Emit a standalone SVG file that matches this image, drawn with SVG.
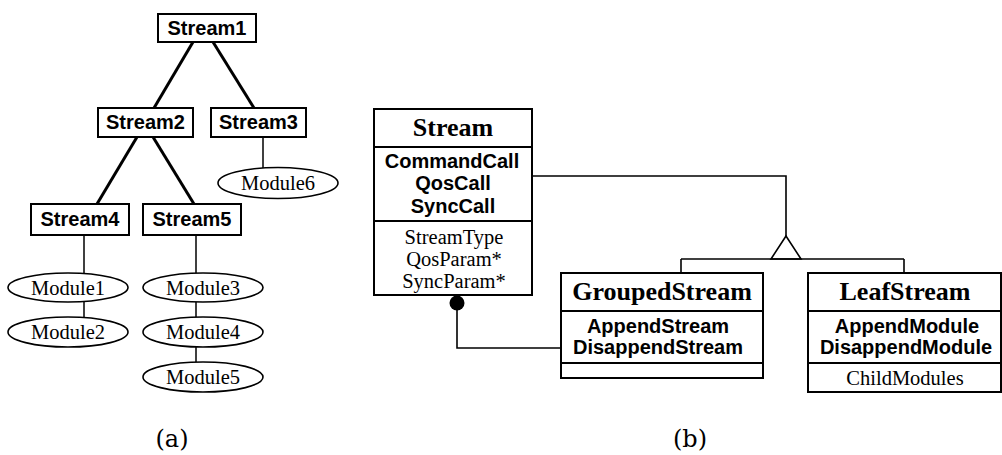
<svg xmlns="http://www.w3.org/2000/svg" width="1002" height="455" viewBox="0 0 1002 455">
  <style>
    .box { fill: #fff; stroke: #000; stroke-width: 2; }
    .ell { fill: #fff; stroke: #000; stroke-width: 1.6; }
    .div { stroke: #000; stroke-width: 2; fill: none; }
    .thick { stroke: #000; stroke-width: 3; fill: none; }
    .thin { stroke: #000; stroke-width: 1.5; fill: none; }
    .wire { stroke: #000; stroke-width: 1.6; fill: none; }
    .sb { font-family: "Liberation Sans", Arial, sans-serif; font-weight: bold; font-size: 20px; text-anchor: middle; fill: #000; }
    .sr { font-family: "Liberation Serif", "Times New Roman", serif; font-size: 20.5px; text-anchor: middle; fill: #000; }
    .mod { font-family: "Liberation Serif", "Times New Roman", serif; font-size: 22px; text-anchor: middle; fill: #000; }
    .st { font-family: "Liberation Serif", "Times New Roman", serif; font-weight: bold; font-size: 26px; text-anchor: middle; fill: #000; }
    .cap { font-family: "DejaVu Serif", "Liberation Serif", serif; font-size: 24px; text-anchor: middle; fill: #000; }
  </style>

  <!-- (a) stream tree -->
  <g id="tree-edges">
    <line class="thick" x1="193" y1="42" x2="154" y2="108"/>
    <line class="thick" x1="213" y1="42" x2="254" y2="108"/>
    <line class="thick" x1="137" y1="137" x2="97" y2="204"/>
    <line class="thick" x1="153" y1="137" x2="194" y2="204"/>
    <line class="thin" x1="263" y1="137" x2="263" y2="168"/>
    <line class="thin" x1="84" y1="235" x2="84" y2="273"/>
    <line class="thin" x1="84" y1="302" x2="84" y2="317"/>
    <line class="thin" x1="196" y1="235" x2="196" y2="273"/>
    <line class="thin" x1="196" y1="302" x2="196" y2="317"/>
    <line class="thin" x1="196" y1="347" x2="196" y2="362"/>
  </g>

  <g id="stream1"><rect class="box" x="158" y="14" width="98" height="28"/><text class="sb" x="207" y="35">Stream1</text></g>
  <g id="stream2"><rect class="box" x="98" y="108" width="95" height="29"/><text class="sb" x="145.5" y="129">Stream2</text></g>
  <g id="stream3"><rect class="box" x="211" y="108" width="95" height="29"/><text class="sb" x="258.5" y="129">Stream3</text></g>
  <g id="stream4"><rect class="box" x="31" y="204" width="98" height="31"/><text class="sb" x="80" y="226">Stream4</text></g>
  <g id="stream5"><rect class="box" x="143" y="204" width="98" height="31"/><text class="sb" x="192" y="226">Stream5</text></g>

  <g id="module6"><ellipse class="ell" cx="278" cy="183" rx="60" ry="15.5"/><text class="mod" x="278" y="190" textLength="74" lengthAdjust="spacingAndGlyphs">Module6</text></g>
  <g id="module1"><ellipse class="ell" cx="68" cy="287.5" rx="60" ry="14.5"/><text class="mod" x="68" y="295" textLength="74" lengthAdjust="spacingAndGlyphs">Module1</text></g>
  <g id="module2"><ellipse class="ell" cx="68" cy="332" rx="60" ry="15"/><text class="mod" x="68" y="339" textLength="74" lengthAdjust="spacingAndGlyphs">Module2</text></g>
  <g id="module3"><ellipse class="ell" cx="203" cy="287.5" rx="60" ry="14.5"/><text class="mod" x="203" y="295" textLength="74" lengthAdjust="spacingAndGlyphs">Module3</text></g>
  <g id="module4"><ellipse class="ell" cx="203" cy="332" rx="60" ry="15"/><text class="mod" x="203" y="339" textLength="74" lengthAdjust="spacingAndGlyphs">Module4</text></g>
  <g id="module5"><ellipse class="ell" cx="203" cy="377" rx="60" ry="15"/><text class="mod" x="203" y="384" textLength="74" lengthAdjust="spacingAndGlyphs">Module5</text></g>

  <text class="cap" x="172" y="447">(a)</text>

  <!-- (b) class diagram -->
  <g id="class-edges">
    <polyline class="wire" points="532,176 786,176 786,236"/>
    <polygon class="wire" fill="#fff" points="786,236 771,259 801,259"/>
    <line class="wire" x1="681" y1="259" x2="904" y2="259"/>
    <line class="wire" x1="681" y1="259" x2="681" y2="273"/>
    <line class="wire" x1="904" y1="259" x2="904" y2="273"/>
    <polyline class="wire" points="457,303 457,348 561,348"/>
    <circle cx="457" cy="303" r="7.5" fill="#000"/>
  </g>

  <g id="class-stream">
    <rect class="box" x="374" y="109" width="158" height="186"/>
    <line class="div" x1="374" y1="147" x2="532" y2="147"/>
    <line class="div" x1="374" y1="221" x2="532" y2="221"/>
    <text class="st" x="453" y="136">Stream</text>
    <text class="sb" x="452" y="168">CommandCall</text>
    <text class="sb" x="453" y="190">QosCall</text>
    <text class="sb" x="453" y="213">SyncCall</text>
    <text class="sr" x="454" y="244">StreamType</text>
    <text class="sr" x="454" y="266">QosParam*</text>
    <text class="sr" x="454" y="288">SyncParam*</text>
  </g>

  <g id="class-grouped">
    <rect class="box" x="561" y="273" width="202" height="105"/>
    <line class="div" x1="561" y1="311" x2="763" y2="311"/>
    <line class="div" x1="561" y1="363" x2="763" y2="363"/>
    <text class="st" x="662" y="300">GroupedStream</text>
    <text class="sb" x="658" y="333">AppendStream</text>
    <text class="sb" x="658" y="354">DisappendStream</text>
  </g>

  <g id="class-leaf">
    <rect class="box" x="808" y="273" width="193" height="119"/>
    <line class="div" x1="808" y1="311" x2="1001" y2="311"/>
    <line class="div" x1="808" y1="363" x2="1001" y2="363"/>
    <text class="st" x="905" y="300">LeafStream</text>
    <text class="sb" x="907" y="333">AppendModule</text>
    <text class="sb" x="906" y="354">DisappendModule</text>
    <text class="sr" x="905" y="385">ChildModules</text>
  </g>

  <text class="cap" x="690" y="447">(b)</text>
</svg>
